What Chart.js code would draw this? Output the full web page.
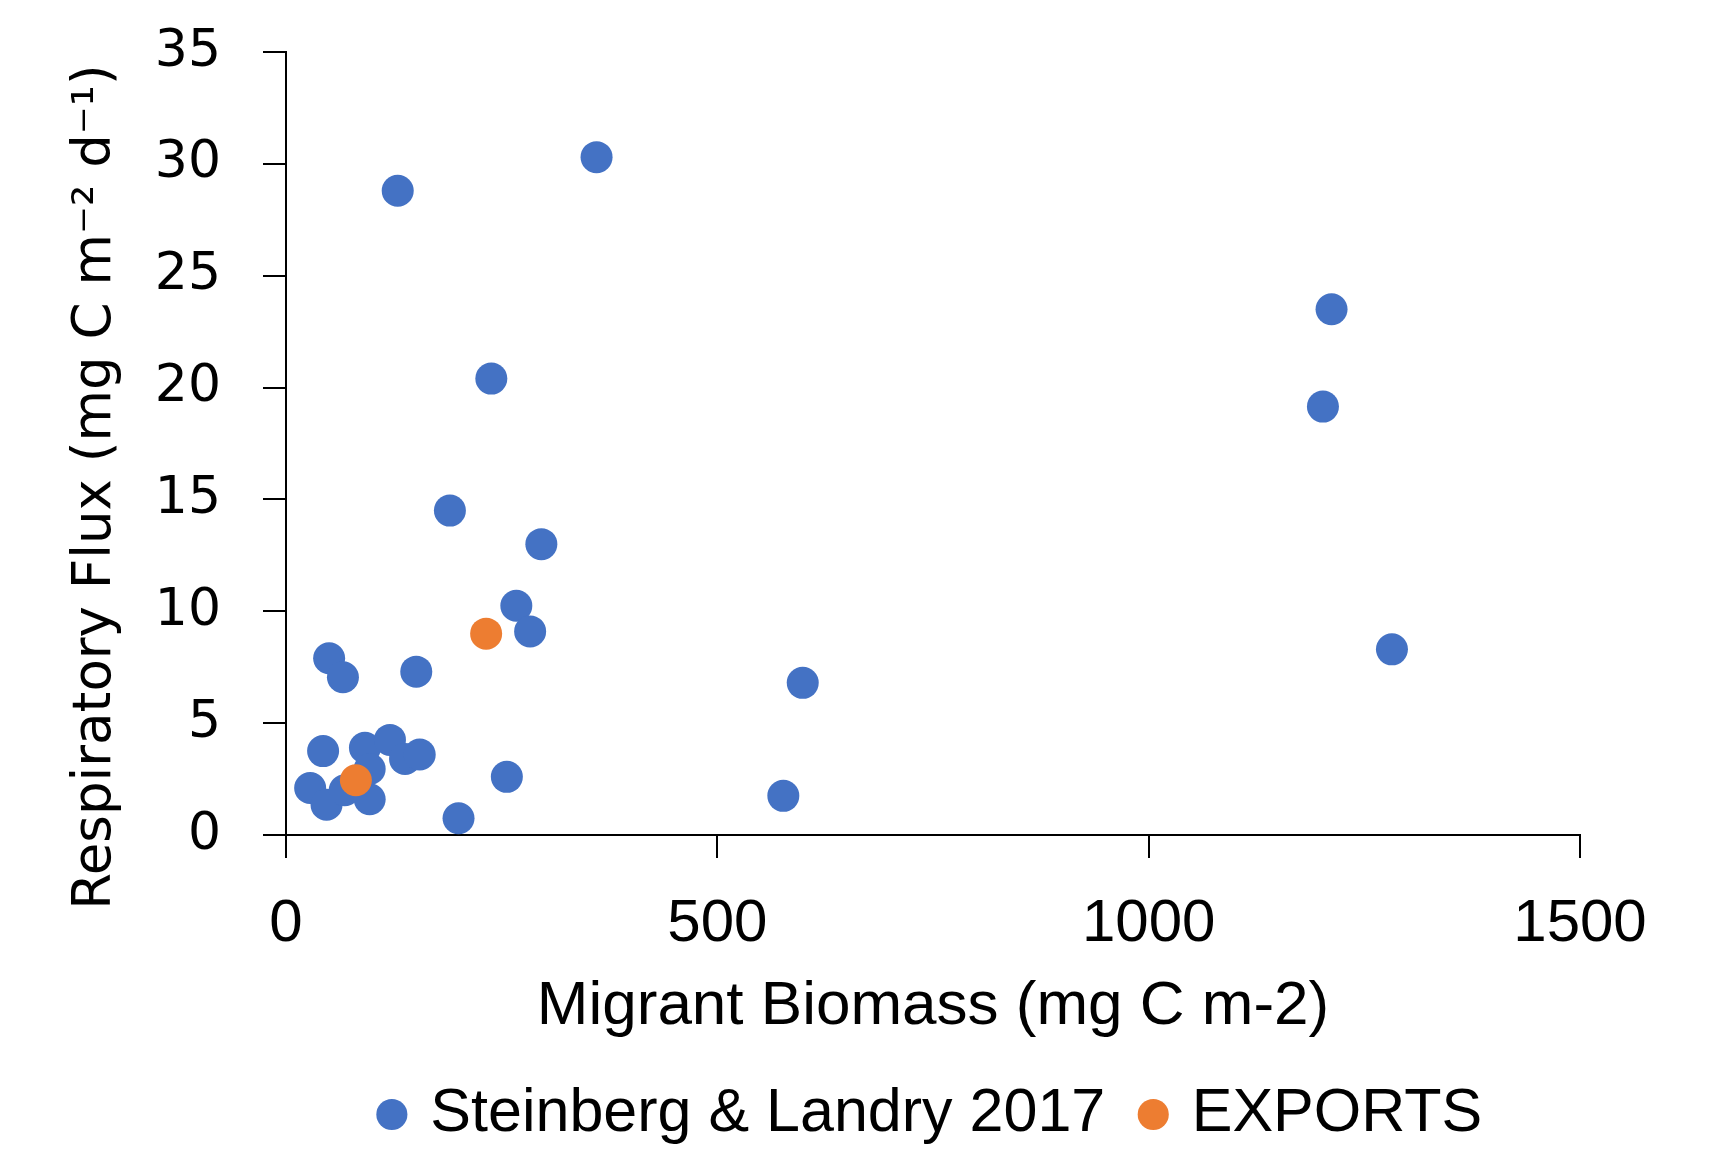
<!DOCTYPE html>
<html>
<head>
<meta charset="utf-8">
<script src="https://cdn.jsdelivr.net/npm/chart.js@4.4.1/dist/chart.umd.min.js"></script>
<style>
  body { margin: 0; background: #fff; }
  #chart { display: block; }
</style>
</head>
<body>
<canvas id="chart" width="1717" height="1155"></canvas>
<script>
// Steinberg & Landry 2017 points (migrant biomass, respiratory flux)
const steinbergX = [129.5, 360, 1212, 1202, 238, 190, 296, 267, 283, 1282, 599, 50, 66, 151,
    43, 91.5, 120.5, 138, 155, 28, 47, 97, 97, 68, 256, 200, 576.5];
const steinbergY = [28.8, 30.3, 23.5, 19.15, 20.4, 14.5, 13.0, 10.25, 9.1, 8.3, 6.8, 7.9, 7.05, 7.3,
    3.75, 3.9, 4.25, 3.4, 3.6, 2.1, 1.35, 1.6, 2.95, 2.0, 2.6, 0.75, 1.75];

// EXPORTS points
const exportsX = [81, 232];
const exportsY = [2.45, 9.0];

const seriesNames = ["Steinberg & Landry 2017", "EXPORTS"];
const seriesColors = ["#4472C4", "#ED7D31"];

const xTitle = "Migrant Biomass (mg C m-2)";
const yTitle = "Respiratory Flux (mg C m\u207B\u00B2 d\u207B\u00B9)";

function toPoints(xs, ys) {
    return xs.map((x, i) => ({ x: x, y: ys[i] }));
}

// y axis title sits a bit below the middle of the axis, like the original,
// so it is drawn here instead of through scale.title
const yTitlePlugin = {
    id: "yTitle",
    afterDraw(chart) {
        const c = chart.ctx;
        c.save();
        c.translate(96, 487);
        c.rotate(-Math.PI / 2);
        c.font = "53px 'DejaVu Sans'";
        c.fillStyle = "#000";
        c.textAlign = "center";
        c.textBaseline = "middle";
        c.fillText(yTitle, 0, 0);
        c.restore();
    },
};

const ctx = document.getElementById("chart");

new Chart(ctx, {
    type: "scatter",
    plugins: [yTitlePlugin],
    data: {
        datasets: [{
            label: seriesNames[0],
            data: toPoints(steinbergX, steinbergY),
            backgroundColor: seriesColors[0],
            borderWidth: 0,
            pointRadius: 16,
            order: 2,
        }, {
            label: seriesNames[1],
            data: toPoints(exportsX, exportsY),
            backgroundColor: seriesColors[1],
            borderWidth: 0,
            pointRadius: 16,
            order: 1,
        }],
    },
    options: {
        responsive: false,
        animation: false,
        layout: {
            autoPadding: false,
            padding: { left: 0, right: 137, top: 52, bottom: 0 },
        },
        plugins: {
            tooltip: { enabled: false },
            legend: {
                position: "bottom",
                fullSize: false,
                labels: {
                    usePointStyle: true,
                    pointStyle: "circle",
                    boxWidth: 16,
                    boxHeight: 22,
                    padding: 40,
                    color: "#000",
                    font: { family: "Liberation Sans", size: 61 },
                    sort: (a, b) => a.datasetIndex - b.datasetIndex,
                },
            },
        },
        scales: {
            x: {
                type: "linear",
                min: 0,
                max: 1500,
                afterFit: (s) => { s.height = 209; },
                ticks: {
                    stepSize: 500,
                    color: "#000",
                    padding: 30,
                    font: { family: "Liberation Sans", size: 60 },
                    callback: (v) => String(v),
                },
                grid: {
                    drawOnChartArea: false,
                    tickLength: 23,
                    color: "#000",
                    lineWidth: 2,
                },
                border: { color: "#000", width: 2 },
                title: {
                    display: true,
                    text: xTitle,
                    color: "#000",
                    font: { family: "Liberation Sans", size: 62 },
                    padding: { top: 0, bottom: 0 },
                },
            },
            y: {
                min: 0,
                max: 35,
                afterFit: (s) => {
                    s.width = 286;
                    s.paddingTop = 0;
                    s.paddingBottom = 0;
                },
                ticks: {
                    stepSize: 5,
                    color: "#000",
                    padding: 42,
                    font: { family: "DejaVu Sans", size: 52 },
                },
                grid: {
                    drawOnChartArea: false,
                    tickLength: 23,
                    color: "#000",
                    lineWidth: 2,
                },
                border: { color: "#000", width: 2 },
                title: { display: false },
            },
        },
    },
});
</script>
</body>
</html>
